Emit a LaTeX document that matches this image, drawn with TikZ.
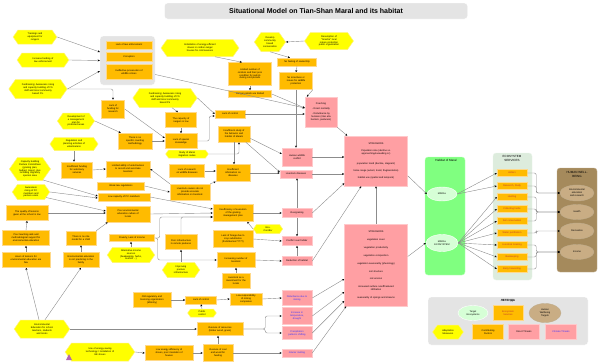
\documentclass[tikz,border=0pt]{standalone}
\usepackage{fontspec}
\setmainfont{Liberation Sans}
\usetikzlibrary{arrows.meta,shapes.symbols,shapes.geometric}
\definecolor{factorfill}{HTML}{FFBB00}
\definecolor{factorline}{HTML}{FFD98A}
\definecolor{measurefill}{HTML}{FFFF00}
\definecolor{measureline}{HTML}{FFF27A}
\definecolor{threatfill}{HTML}{FF9FA3}
\definecolor{threatline}{HTML}{FFC9CB}
\definecolor{climtext}{HTML}{3333FF}
\definecolor{habfill}{HTML}{80FF80}
\definecolor{habline}{HTML}{B8FFB8}
\definecolor{habell}{HTML}{D6FFD6}
\definecolor{esfill}{HTML}{DDECDD}
\definecolor{hwbfill}{HTML}{A58A5C}
\definecolor{hwbell}{HTML}{C9AD84}
\definecolor{panelgray}{HTML}{E4E4E4}
\definecolor{linegray}{HTML}{8C8C8C}
\definecolor{servtext}{HTML}{C0392B}
\tikzset{
  every node/.style={font=\fontsize{2.4}{2.9}\selectfont},
  factor/.style={draw=factorline,fill=factorfill,line width=0.5pt,align=center,
                 inner xsep=1pt,inner ysep=0.5pt},
  service/.style={factor,text=servtext,text width=28pt,minimum height=7pt},
  threat/.style={draw=threatline,fill=threatfill,line width=0.5pt,align=center,
                 inner xsep=1pt,inner ysep=0.5pt},
  climthreat/.style={threat,text=climtext},
  measure/.style={signal,signal to=east and west,signal pointer angle=110,
                  draw=measureline,fill=measurefill,line width=0.5pt,align=center,
                  inner xsep=0.5pt,inner ysep=0.5pt},
  panel/.style={draw=white,fill=panelgray,rounded corners=3pt},
  target/.style={ellipse,draw=white,fill=habell,align=center,inner sep=0pt},
  hwbtarget/.style={ellipse,draw=hwbfill!70!white,fill=hwbell,align=center,inner sep=0pt},
  link/.style={draw=linegray,line width=0.4pt,rounded corners=2pt,
               -{Stealth[length=2.2pt,width=2pt,color=black]}},
  sz/.style 2 args={text width=#1pt,minimum height=#2pt}
}
\begin{document}
\begin{tikzpicture}[x=1pt,y=-1pt]
    \path[use as bounding box] (0,0) rectangle (600,364);

    \node[panel,minimum width=303pt,minimum height=16pt,
          font=\bfseries\fontsize{7}{8}\selectfont] (title) at (316,11)
      {Situational Model on Tian-Shan Maral and its habitat};

    % adaptation measures
    \node[measure,sz={33}{14}] (trainings) at (35,37) {Trainings and\\equipment for\\rangers};
    \node[measure,sz={41}{14}] (funding) at (43,60) {Increase funding of\\law enforcement};
    \node[measure,sz={44}{19}] (fundraise) at (38,89)
      {Fundraising; Awareness rising\\and capacity building of FS\\staff and local community\\based FS.};
    \node[measure,sz={50}{19}] (fundraiseb) at (165,98)
      {Fundraising; Awareness rising\\and capacity building of FS\\staff and local community\\based FS};
    \node[measure,sz={25}{16}] (mgmtplan) at (76,121) {Development of\\a management\\plan for\\protected areas};
    \node[measure,sz={65}{17}] (stoves) at (200,48)
      {Installation of energy-efficient\\stoves in cordon-ranger\\houses for cold seasons};
    \node[measure,sz={17}{19}] (community) at (270,42) {Develop\\community\\based\\conservation};
    \node[measure,sz={36}{17}] (snezhe) at (329,41)
      {Resumption of\\``Snezhe'' local\\nature protection\\public organization};
    \node[measure,sz={38}{13}] (vetplan) at (74,144) {Regulation and\\planning activities of\\veterinarians};
    \node[measure,sz={24}{23}] (pccapacity) at (30,169)
      {Capacity building\\Pasture Committees\\(grazing plan,\\budget, maps), plus\\including migratory\\species area};
    \node[measure,sz={26}{15}] (pcaware) at (31,192) {Awareness\\rising of PC\\members and\\pasture users};
    \node[measure,sz={36}{8}] (migration) at (187,154) {Study of Maral\\migration routes};
    \node[measure,sz={22}{9}] (corridor) at (268,229) {Eco-\\Corridor};
    \node[measure,sz={36}{15}] (income) at (131,255)
      {Alternative income\\sources\\(beekeeping, herbs,\\tourism ...)};
    \node[measure,sz={42}{18}] (enveduc) at (42,329)
      {Environmental\\Education for school\\teachers, students\\and locals};
    \node[measure,sz={26}{15}] (pasture) at (181,270) {Improving\\pasture\\infrastructure};
    \node[measure,sz={22}{8}] (publicctrl) at (202,313) {Public\\control};
    \node[measure,sz={56}{18}] (energysave) at (100,352)
      {Use of energy-saving\\technology / installation of\\EE stoves};
    \fill[violet!60] (66,360) -- (72,360) -- (69,354) -- cycle;

    % contributing factors
    \node[panel,minimum width=55pt,minimum height=49pt] (lawgroup) at (127.5,60.5) {};
    \node[factor,sz={44}{8}] (lawenf) at (129,45) {Lack of law enforcement};
    \node[factor,sz={44}{9}] (corrupt) at (129,57) {Corruption};
    \node[factor,sz={44}{15}] (prosec) at (129,72) {Ineffective prosecution of\\wildlife crimes};
    \node[factor,sz={21}{18}] (resfund) at (113,109) {Lack of\\funding for\\research};
    \node[factor,sz={41}{23}] (cordons) at (250,74)
      {Limited number of\\cordons and their poor\\condition for patrols\\during cold periods};
    \node[factor,sz={41}{7}] (patrols) at (250,94) {Ranger patrols are limited};
    \node[factor,sz={37}{8}] (ownership) at (297,62) {No feeling of ownership};
    \node[factor,sz={31}{17}] (incentives) at (296,81) {No incentives or\\issues for wildlife\\protection};
    \node[factor,sz={28}{8}] (controla) at (230,114) {Lack of control};
    \node[factor,sz={29}{15}] (rangercap) at (181,120) {The capacity of\\rangers is low};
    \node[factor,sz={30}{15}] (knowledge) at (181,141) {Lack of special\\knowledge};
    \node[factor,sz={32}{16}] (counting) at (135,141) {There is no\\specific counting\\methodology};
    \node[factor,sz={30}{16}] (behavior) at (234,134) {Insufficient study of\\the behavior and\\habitat of Marals};
    \node[factor,sz={33}{13}] (disresearch) at (187,171) {Lack of research\\on wildlife diseases};
    \node[factor,sz={32}{17}] (disinfo) at (233,173) {Insufficient\\information on\\diseases};
    \node[factor,sz={38}{16}] (owners) at (190,192)
      {Livestock owners do not\\provide accurate\\information on livestock};
    \node[factor,sz={38}{17}] (grazeplan) at (233,213)
      {Insufficiency of execution\\of the grazing\\management plan};
    \node[factor,sz={29}{16}] (vetfund) at (77,170) {Insufficient funding\\for veterinary\\services};
    \node[factor,sz={42}{16}] (vetability) at (128,169)
      {Limited ability of veterinarians\\to record and vaccinate\\livestock};
    \node[factor,sz={45}{8}] (weaklaw) at (121,186) {Weak law regulations};
    \node[factor,sz={50}{8}] (pclow) at (124,197) {Low capacity of PC members};
    \node[factor,sz={40}{15}] (lessons) at (27,213) {The quality of lessons\\given at the school is low};
    \node[factor,sz={42}{16}] (envculture) at (128,214)
      {Poor environmental\\education culture of\\locals};
    \node[factor,sz={45}{15}] (teachaids) at (26,238)
      {Poor teaching aids and\\methodological support for\\environmental education};
    \node[factor,sz={28}{14}] (rolemodel) at (81,238) {There is no role\\model for a child};
    \node[factor,sz={43}{7}] (poverty) at (132,238) {Poverty, Lack of income};
    \node[factor,sz={46}{15}] (hours) at (26,260)
      {Hours of lessons for\\environmental education are\\few};
    \node[factor,sz={34}{15}] (family) at (81,260)
      {Environmental education\\is not practicing in the\\family};
    \node[factor,sz={30}{15}] (infra) at (181,242) {Poor infrastructure\\in remote pastures};
    \node[factor,sz={38}{17}] (forage) at (233,239)
      {Lack of forage due to\\crop substitution\\(fruits/berries?????)};
    \node[factor,sz={36}{15}] (livestock) at (236,260) {Increasing number of\\livestock};
    \node[factor,sz={26}{15}] (investment) at (236,281) {Livestock as a\\investment for the\\locals};
    \node[factor,sz={36}{15}] (ministry) at (152,300)
      {Old regulatory and\\licensing organization\\(Ministry)};
    \node[factor,sz={29}{8}] (controlb) at (201,300) {Lack of control};
    \node[factor,sz={30}{12}] (mining) at (246,299) {Low responsibility\\of mining\\companies};
    \node[factor,sz={44}{13}] (overuse) at (220,329) {Overuse of resources\\(timber wood, grass)};
    \node[factor,sz={28}{17}] (coal) at (218,353) {Overuse of coal\\and wood for\\heating};
    \node[factor,sz={46}{15}] (effic) at (169,353)
      {Low energy efficiency of\\stoves, poor insulation of\\houses};

    % direct and climate threats
    \node[threat,sz={30}{30}] (poaching) at (321,112)
      {Poaching\\[2pt]- Direct mortality\\[2pt]- Disturbance by\\humans (inter alia\\hunters, pasturers)};
    \node[threat,sz={28}{18}] (hwconflict) at (297,157) {Human wildlife\\conflict};
    \node[threat,sz={30}{8}] (disease) at (296,174) {Livestock diseases};
    \node[threat,sz={28}{9}] (overgraze) at (297,213) {Overgrazing};
    \node[threat,sz={28}{9}] (fodder) at (297,241) {Conflict over fodder};
    \node[threat,sz={28}{9}] (habloss) at (297,261) {Reduction of habitat};
    \node[climthreat,sz={28}{15}] (distmining) at (297,298) {Disturbance due to\\mining};
    \node[climthreat,sz={28}{17}] (temperature) at (297,316) {Increase in\\temperature,\\drought};
    \node[climthreat,sz={28}{13}] (precip) at (297,333) {Precipitation\\patterns shifting};
    \node[climthreat,sz={28}{8}] (glacier) at (297,353) {Glacier melting};

    % stressors
    \node[threat,sz={61}{50}] (stressa) at (376,161)
      {STRESSORS\\[4pt]Population size (decline vs.\\approaching/exceeding cc)\\[7pt]population trend (decline, stagnant)\\[5pt]home range (extent, trend, fragmentation)\\[4pt]habitat use (spatial and temporal)};
    \node[threat,sz={61}{82}] (stressb) at (376,265)
      {STRESSORS\\[5pt]vegetation cover\\[5pt]vegetation productivity\\[5pt]vegetation composition\\[5pt]vegetation seasonality (phenology)\\[5pt]soil structure\\[5pt]soil erosion\\[5pt]increased surface runoff/reduced\\infiltration\\[5pt]seasonality of springs and streams};

    % targets, services, well-being
    \node[draw=habline,fill=habfill,rounded corners=3pt,minimum width=40pt,minimum height=118pt] (habitat) at (445,216) {};
    \node[font=\fontsize{3}{3.5}\selectfont] (habtitle) at (446,160) {Habitat of Maral};
    \node[target,minimum width=30pt,minimum height=14pt] (maral) at (442,194) {MARAL};
    \node[target,minimum width=32pt,minimum height=17pt] (ecosys) at (442,243) {MARAL\\ECOSYSTEM};

    \node[draw=esfill!60!white,fill=esfill,rounded corners=3pt,minimum width=39pt,minimum height=127pt] (services) at (512.5,216.5) {};
    \node[align=center,font=\fontsize{3}{3.5}\selectfont] (servtitle) at (512,158.5) {ECOSYSTEM\\SERVICES};
    \node[service] (antlers) at (512,173) {Antlers};
    \node[service] (research) at (512,186) {Research, Study};
    \node[service] (hunting) at (512,197) {Hunting};
    \node[service] (herbs) at (512,209) {Collecting herbs};
    \node[service] (soil) at (512,221) {Soil conservation};
    \node[service] (water) at (512,233) {Water purification};
    \node[service] (grazing) at (512,245) {Livestock Grazing};
    \node[service] (bees) at (512,257) {Beekeeping};
    \node[service] (berries) at (512,269) {Berry harvesting};

    \node[draw=hwbfill!70!white,fill=hwbfill,rounded corners=3pt,minimum width=40pt,minimum height=104pt] (wellbeing) at (577,220) {};
    \node[align=center,font=\fontsize{3}{3.5}\selectfont] (wbtitle) at (577,174.5) {HUMAN WELL-\\BEING};
    \node[hwbtarget,minimum width=34pt,minimum height=16pt] (wbedu) at (577,193) {Environmental\\education\\and research};
    \node[hwbtarget,minimum width=34pt,minimum height=15pt] (wbhealth) at (577,212) {Health};
    \node[hwbtarget,minimum width=34pt,minimum height=16pt] (wbrecr) at (577,231) {Recreation};
    \node[hwbtarget,minimum width=34pt,minimum height=15pt] (wbincome) at (577,252) {Income};

    % legend
    \node[panel,minimum width=160pt,minimum height=48pt] (legend) at (508,321) {};
    \node[font=\bfseries\fontsize{3}{3.5}\selectfont] (legtitle) at (508,300.5) {ЛЕГЕНДА};
    \node[target,minimum width=30pt,minimum height=15pt] (legtarget) at (473,313) {Target\\Ecosystems};
    \node[service,minimum height=15pt] (legservice) at (508,313) {Ecosystem\\Services};
    \node[hwbtarget,minimum width=32pt,minimum height=19pt] (legwb) at (545,313) {Human\\Wellbeing\\Targets};
    \node[measure,sz={20}{14}] (legmeasure) at (448,332) {Adaptation\\Measures};
    \node[factor,sz={29}{15}] (legfactor) at (488,332) {Contributing\\Factors};
    \node[threat,sz={29}{15}] (legthreat) at (524,332) {Direct Threats};
    \node[climthreat,sz={29}{15}] (legclimate) at (561,332) {Climate Threats};

    % links
    \draw[link] (trainings.east) -- ([yshift=8.5pt]lawgroup.west);
    \draw[link] (funding.east) -- (lawgroup.west);
    \draw[link] (fundraise.east) -- ([yshift=-10.5pt]lawgroup.west);
    \draw[link] (fundraise.east) -| (resfund.north);
    \draw[link] (resfund.east) -- ([yshift=3pt]knowledge.west);
    \draw[link] (mgmtplan.east) -- ([xshift=3pt]counting.north west);
    \draw[link] (counting.east) -- (knowledge.west);
    \draw[link] ([xshift=7pt]fundraiseb.south) -- ([xshift=-3pt]rangercap.north);
    \draw[link] (fundraiseb.east) -- (controla.west);
    \draw[link] (rangercap.south) -- (knowledge.north);
    \draw[link] (knowledge.east) -- ++(12,0) |- ([yshift=-2pt]controla.west);
    \draw[link] ([yshift=-14pt]lawgroup.east) -- ([yshift=4pt]poaching.west);
    \draw[link] (patrols.east) -- ([yshift=4pt]poaching.west);
    \draw[link] (controla.east) -- (controla.east -| poaching.west);
    \draw[link] ([xshift=15pt]stoves.south) -- ([xshift=-8pt]cordons.north);
    \draw[link] (cordons.south) -- (patrols.north);
    \draw[link] (community.south) -- ([xshift=-7pt]ownership.north);
    \draw[link] (snezhe.west) -- (community.east);
    \draw[link] (ownership.south) -- (incentives.north);
    \draw[link] (incentives.south) -- (incentives.south |- hwconflict.north);
    \draw[link] (incentives.south east) -- ([xshift=2pt]poaching.north west);
    \draw[link] (poaching.south east) -- ([xshift=3pt]stressa.north west);

    \draw[link] (migration.east) -| ([xshift=5pt]behavior.south);
    \draw[link] (behavior.south) -- (behavior.south |- disinfo.north);
    \draw[link] (behavior.-15) -- ([yshift=3pt]hwconflict.west);
    \draw[link] (behavior.-35) -- ([yshift=2pt]disease.west);
    \draw[link] (disresearch.east) -- (disresearch.east -| disinfo.west);
    \draw[link] (owners.north east) -- (disinfo.south west);
    \draw[link] (disinfo.east) -- (disinfo.east -| disease.west);
    \draw[link] (owners.north west) -- (vetability.east);
    \draw[link] (vetplan.south) -- (vetplan.south |- vetfund.north);
    \draw[link] (vetfund.east) -- (vetability.west);
    \draw[link] (weaklaw.east) -- (owners.west);
    \draw[link] (pccapacity.-40) -- ([yshift=1pt]pclow.west);
    \draw[link] (pcaware.east) -- ([yshift=-1pt]pclow.west);
    \draw[link] (pcaware.-20) -- ([yshift=3pt]envculture.west);
    \draw[link] (pclow.east) -- ([yshift=4pt]grazeplan.west);
    \draw[link] (envculture.east) -- (grazeplan.west);
    \draw[link] (poverty.east) -- ++(5,0) |- ([yshift=-4pt]grazeplan.west);
    \draw[link] (infra.north) |- ([yshift=-4pt]grazeplan.west);
    \draw[link] (poverty.east) -- ++(3,0) |- (livestock.west);
    \draw[link] (corridor.west) -- ([xshift=-6pt]grazeplan.south east);
    \draw[link] (grazeplan.east) -- (grazeplan.east -| overgraze.west);
    \draw[link] (overgraze.north) -- (overgraze.north |- disease.south);
    \draw[link] (overgraze.south) -- (fodder.north);
    \draw[link] (habloss.north) -- (fodder.south);
    \draw[link] (overgraze.east) -- (stressa.215);
    \draw[link] (habloss.east) -- ([xshift=17pt]stressa.south west);
    \draw[link] (hwconflict.east) -- (hwconflict.east -| stressa.west);
    \draw[link] (disease.east) -- (disease.east -| stressa.west);
    \draw[link] (forage.east) -- (fodder.west);
    \draw[link] (livestock.east) -- (habloss.west);
    \draw[link] (investment.north) -- (livestock.south);
    \draw[link] (pasture.north) -- (infra.south);
    \draw[link] (income.north) -- (income.north |- poverty.south);
    \draw[link] (ministry.east) -- (controlb.west);
    \draw[link] (publicctrl.north) -- (controlb.south);
    \draw[link] (controlb.east) -- (mining.west);
    \draw[link] (mining.east) -- (distmining.west);

    \draw[link] ([xshift=-3pt]enveduc.north) -- (hours.south);
    \draw[link] ([xshift=3pt]enveduc.north) -- (family.south);
    \draw[link] (enveduc.east) -- (enveduc.east -| overuse.west);
    \draw[link] (hours.north) -- (teachaids.south);
    \draw[link] (teachaids.north) -- (lessons.south);
    \draw[link] (lessons.east) -- (lessons.east -| envculture.west);
    \draw[link] (family.north) -- (rolemodel.south);
    \draw[link] (rolemodel.north east) -- ([xshift=2pt]envculture.south west);
    \draw[link] (energysave.east) -- (effic.west);
    \draw[link] (effic.east) -- (coal.west);
    \draw[link] (coal.north) -- (coal.north |- overuse.south);
    \draw[link] (overuse.east) -- ++(22,0) |- (temperature.west);
    \draw[link] (overuse.east) -- ++(22,0) |- (precip.west);
    \draw[link] (coal.east) -- (glacier.west);

    \draw[link] (distmining.east) -- ([yshift=-14pt]stressb.west);
    \draw[link] (temperature.east) -- ([yshift=-27pt]stressb.west);
    \draw[link] (precip.east) -- ([yshift=-36pt]stressb.west);
    \draw[link] (glacier.east) -- ([xshift=2pt]stressb.south west);
    \draw[link] (stressb.north) -- (stressa.south);
    \draw[link] (stressa.-25) -- (maral.west);
    \draw[link] (stressb.15) -- (ecosys.west);
    \foreach \s in {antlers,research}
      \draw[link] (maral.east) -- (\s.west);
    \foreach \s in {hunting,herbs,soil,water,grazing,bees,berries}
      \draw[link] (ecosys.east) -- (\s.west);
    \foreach \s in {antlers,research}
      \draw[link] (\s.east) -- ++(9,0) |- (wbedu.west);
    \foreach \s in {hunting,herbs,soil}
      \draw[link] (\s.east) -- ++(9,0) |- (wbhealth.west);
    \draw[link] (water.east) -- ++(9,0) |- (wbrecr.west);
    \foreach \s in {grazing,bees,berries}
      \draw[link] (\s.east) -- ++(9,0) |- (wbincome.west);
\end{tikzpicture}
\end{document}
